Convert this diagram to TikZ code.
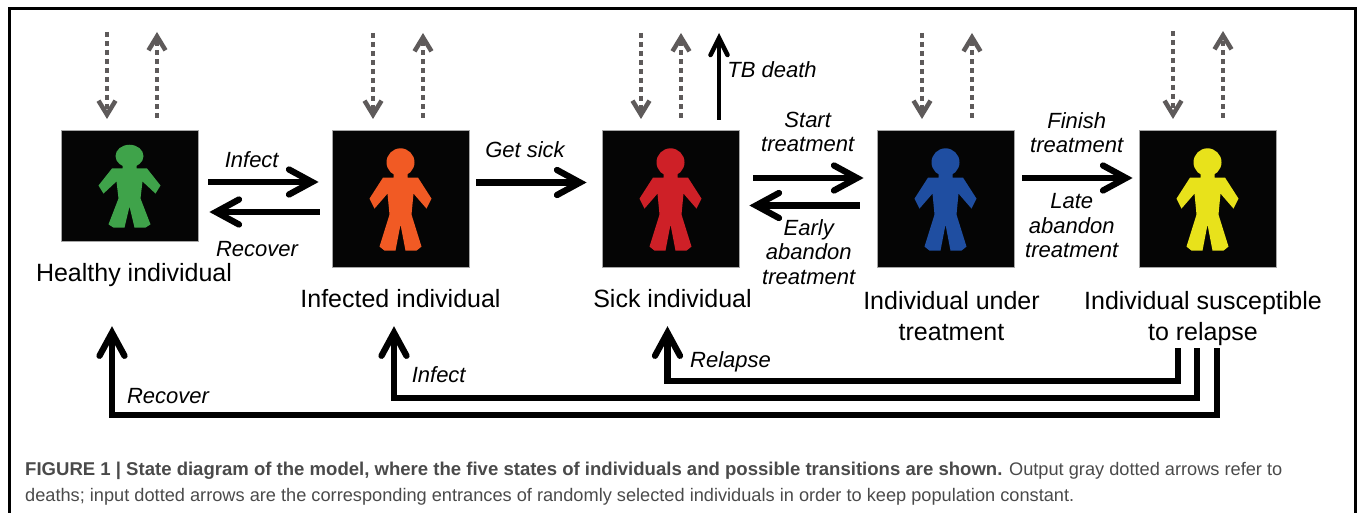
\documentclass[tikz,border=0pt]{standalone}
\usepackage{fontspec}
\setmainfont{Liberation Sans}
\usepackage{xcolor}
\usetikzlibrary{arrows.meta}
\definecolor{healthycol}{HTML}{3FA34A}
\definecolor{infectedcol}{HTML}{F15A24}
\definecolor{sickcol}{HTML}{CE2027}
\definecolor{treatcol}{HTML}{1F4EA1}
\definecolor{relapsecol}{HTML}{E8E21B}
\definecolor{dotcol}{HTML}{5E5A5A}
\definecolor{capcol}{HTML}{4A4A4A}

\tikzset{
  statebox/.style={draw=gray!70, line width=.8pt, fill=black!98, minimum width=137pt, minimum height=137pt, inner sep=0pt},
  statetext/.style={font=\fontsize{25}{31}\selectfont, align=center, anchor=base, inner sep=0pt, text depth=6pt},
  flowtext/.style={font=\fontsize{22}{24.5}\selectfont\itshape, align=center, anchor=base, inner sep=0pt},
  flow/.style={line width=6.3pt, -{Straight Barb[length=23pt,width=25pt,line width=6.3pt,line cap=round,line join=miter]}},
  thinflow/.style={line width=4.5pt, -{Straight Barb[length=17pt,width=17pt,line width=4.5pt,line cap=round,line join=miter]}},
  dotflow/.style={draw=dotcol, line width=4.5pt, dash pattern=on 5pt off 4pt, -{Straight Barb[length=14pt,width=17pt,line width=4.5pt]}}
}

% one little person, #1 box, #2 colour, #3 squash of the height
\newcommand{\person}[3]{
  \begin{scope}[shift={(#1.north)}, yscale=#3, fill=#2]
    \fill (0,32.7) circle[radius=14];
    \fill (-7,40) -- (7,40) -- (7,48) -- (17.5,48) -- (31,69) -- (26,79) -- (13,64) -- (11,85)
      -- (21,117) -- (16,121) -- (5,121) -- (0,95) -- (-5,121) -- (-16,121) -- (-21,117)
      -- (-11,85) -- (-13,64) -- (-26,79) -- (-31,69) -- (-17.5,48) -- (-7,48) -- cycle;
  \end{scope}
}

\begin{document}
\begin{tikzpicture}[x=1pt, y=-1pt]
  \useasboundingbox (0,0) rectangle (1358,513);
  \coordinate (frameA) at (9,513);
  \coordinate (frameB) at (9,9);
  \coordinate (frameC) at (1355,9);
  \coordinate (frameD) at (1355,513);
  \draw[line width=3pt] (frameA) -- (frameB) -- (frameC) -- (frameD);

  \node[statebox, minimum height=111pt] (healthy) at (129.5,185.5) {};
  \node[statebox] (infected) at (400.5,198.5) {};
  \node[statebox] (sick) at (670.5,198.5) {};
  \node[statebox] (treat) at (945.5,198.5) {};
  \node[statebox] (relapse) at (1207.5,198.5) {};

  \person{healthy}{healthycol}{.81}
  \person{infected}{infectedcol}{1}
  \person{sick}{sickcol}{1}
  \person{treat}{treatcol}{1}
  \person{relapse}{relapsecol}{1}

  \node[statetext] (healthytext) at (134,281) {Healthy individual};
  \node[statetext] (infectedtext) at (400.5,308) {Infected individual};
  \node[statetext] (sicktext) at (672.5,308) {Sick individual};
  \node[statetext] (treattext) at (951.5,340) {Individual under\\treatment};
  \node[statetext] (relapsetext) at (1203,340) {Individual susceptible\\to relapse};

  % dotted deaths and entrances above each box
  \foreach \state/\inx/\outx/\ytop in {healthy/107/157/32, infected/373/423/33, sick/641/681/33, treat/922/972/33, relapse/1173/1223/31} {
    \coordinate (\state in) at (\inx,\ytop);
    \coordinate (\state out) at (\outx,\ytop);
    \draw[dotflow] (\state in) -- (\inx,119);
    \draw[dotflow] (\outx,118) -- (\state out);
  }

  % flows between the boxes
  \draw[flow, shorten <=10pt, shorten >=13pt] (healthy.east |- 0,182) -- (infected.west |- 0,182);
  \draw[flow, shorten <=12pt, shorten >=11pt] (infected.west |- 0,212) -- (healthy.east |- 0,212);
  \draw[flow, shorten <=7pt, shorten >=15pt] (infected.east |- 0,182.5) -- (sick.west |- 0,182.5);
  \draw[flow, shorten <=14pt, shorten >=13pt] (sick.east |- 0,178) -- (treat.west |- 0,178);
  \draw[flow, shorten <=17pt, shorten >=10pt] (treat.west |- 0,205.5) -- (sick.east |- 0,205.5);
  \draw[flow, shorten <=8pt, shorten >=6pt] (treat.east |- 0,178) -- (relapse.west |- 0,178);
  \coordinate (tbdeath) at (719,33);
  \draw[thinflow, shorten <=10pt] (sick.north -| tbdeath) -- (tbdeath);

  % flows back from the last state
  \draw[flow] ([xshift=-25pt,yshift=-2pt]relapsetext.south) -- ++(0,33) -| ([xshift=-5pt,yshift=-12pt]sicktext.south);
  \draw[flow] ([xshift=-6pt,yshift=-2pt]relapsetext.south) -- ++(0,50) -| ([xshift=-6.5pt,yshift=-12pt]infectedtext.south);
  \draw[flow] ([xshift=14pt,yshift=-2pt]relapsetext.south) -- ++(0,67) -| ([xshift=-22pt,yshift=-39pt]healthytext.south);

  \node[flowtext] (infectlab) at (251.7,167.7) {Infect};
  \node[flowtext] (recoverlab) at (257,257) {Recover};
  \node[flowtext] (getsicklab) at (525,157.7) {Get sick};
  \node[flowtext] (tbdeathlab) at (772,78) {TB death};
  \node[flowtext] (startlab) at (807.7,151.7) {Start\\treatment};
  \node[flowtext] (earlylab) at (808.7,284) {Early\\abandon\\treatment};
  \node[flowtext] (finishlab) at (1076.7,153) {Finish\\treatment};
  \node[flowtext] (latelab) at (1071.7,257.7) {Late\\abandon\\treatment};
  \node[flowtext] (relapselab) at (730.5,367.7) {Relapse};
  \node[flowtext] (backinfectlab) at (438.7,382.7) {Infect};
  \node[flowtext] (backrecoverlab) at (168,403) {Recover};

  \node[anchor=base west, inner sep=0pt, align=left, text=capcol, font=\fontsize{18.2}{25.5}\selectfont] (caption) at (25,501)
    {{\fontsize{18.55}{25.5}\selectfont\bfseries FIGURE 1 | State diagram of the model, where the five states of individuals and possible transitions are shown.} Output gray dotted arrows refer to\\deaths; input dotted arrows are the corresponding entrances of randomly selected individuals in order to keep population constant.};
\end{tikzpicture}
\end{document}
